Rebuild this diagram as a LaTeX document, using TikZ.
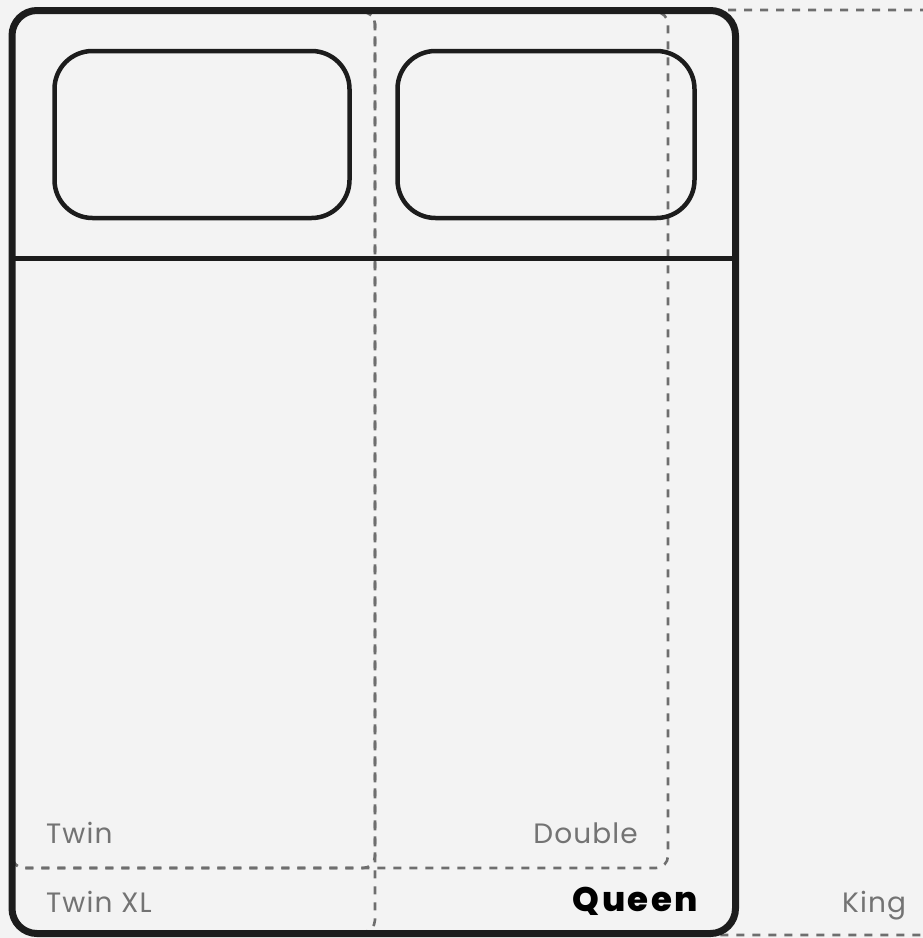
\documentclass[tikz,border=0pt]{standalone}
\usepackage{fontspec}
\setmainfont{Poppins}
\newfontfamily\labelfont[LetterSpace=4]{Poppins}
\IfFontExistsTF{Poppins ExtraBold}
  {\newfontfamily\queenfont[LetterSpace=7]{Poppins ExtraBold}\def\queenweight{}}
  {\newfontfamily\queenfont[LetterSpace=9]{Poppins}\def\queenweight{\bfseries}}
\definecolor{bg}{HTML}{F3F3F3}
\definecolor{frame}{HTML}{1C1C1C}
\definecolor{dash}{HTML}{6E6E6E}
\definecolor{label}{HTML}{737373}
\tikzset{
  sizebox/.style={draw=dash, line width=2.6pt, dash pattern=on 8pt off 8pt, rounded corners=12pt},
  bedframe/.style={draw=frame, line width=7pt, rounded corners=25pt},
  pillow/.style={draw=frame, line width=4.5pt, rounded corners=38pt},
  sizelabel/.style={text=label, font=\labelfont\fontsize{28}{28}\selectfont, inner sep=0pt},
  mainlabel/.style={text=black, font=\queenfont\fontsize{34}{34}\selectfont\queenweight, inner sep=0pt}
}
\begin{document}
\begin{tikzpicture}[x=1pt,y=-1pt]
\fill[bg] (0,0) rectangle (923,938);
\useasboundingbox (0,0) rectangle (923,938);
\begin{scope}
\clip (0,0) rectangle (923,938);
% King (left part hidden under the Queen frame)
\draw[sizebox] (600,10) -- (935,10) -- (935,935) -- (600,935);
% Twin XL
\draw[sizebox] (300,12) -- (375,12) -- (375,932) -- (300,932);
% Twin
\draw[sizebox] (12,300) -- (12,868) -- (375,868) -- (375,12) -- (300,12);
% Double
\draw[sizebox] (12,300) -- (12,868) -- (668,868) -- (668,12) -- (600,12);
\end{scope}
% Queen frame
\draw[bedframe] (12,10.5) rectangle (735.5,933.5);
\draw[draw=frame, line width=5pt] (12,258) -- (735.5,258);
% Pillows
\draw[pillow] (54.5,51) rectangle (349.5,218);
\draw[pillow] (397.5,51) rectangle (694.5,218);
% Labels
\node[sizelabel, anchor=base west] (twin) at (46,843) {Twin};
\node[sizelabel, anchor=base east] (double) at (638,843) {Double};
\node[sizelabel, anchor=base west] (twinxl) at (46,912) {Twin XL};
\node[mainlabel, anchor=base east] (queen) at (698,911) {Queen};
\node[sizelabel, anchor=base west] (king) at (842,912) {King};
\end{tikzpicture}
\end{document}
